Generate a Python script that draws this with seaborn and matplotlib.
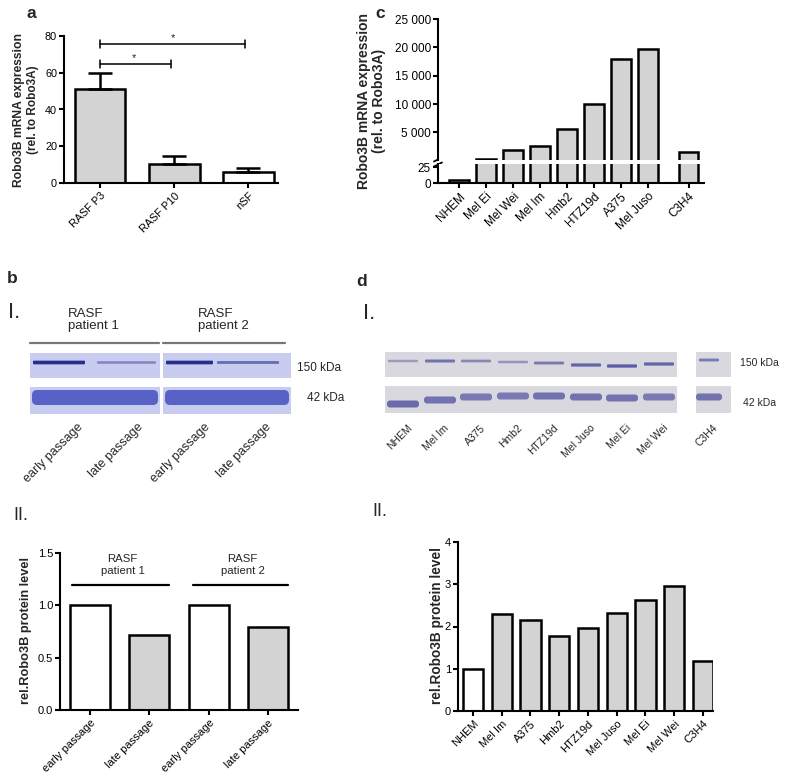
import matplotlib
matplotlib.use("Agg")
import matplotlib.pyplot as plt
from matplotlib.patches import Rectangle, FancyBboxPatch
from matplotlib.ticker import FuncFormatter
import numpy as np
import seaborn as sns

# ---- panel a: mRNA in RASF ----
a_labels = ["RASF P3", "RASF P10", "nSF"]
a_means = [51.2, 10.5, 6.2]
a_sem = [8.7, 4.4, 1.8]
a_colors = ["#d3d3d3", "#d3d3d3", "white"]

# ---- panel c: mRNA in melanoma lines ----
c_labels = ["NHEM", "Mel Ei", "Mel Wei", "Mel Im", "Hmb2", "HTZ19d", "A375", "Mel Juso", "C3H4"]
c_pos = [0, 1, 2, 3, 4, 5, 6, 7, 8.5]
c_vals = [4, 400, 1840, 2670, 5670, 10000, 18000, 19800, 1540]

# ---- panel b II: protein RASF ----
b_keys = ["p1 early", "p1 late", "p2 early", "p2 late"]
b_labels = ["early passage", "late passage", "early passage", "late passage"]
b_vals = [1.0, 0.72, 1.0, 0.79]
b_colors = ["white", "#d3d3d3", "white", "#d3d3d3"]
b_groups = ["RASF\npatient 1", "RASF\npatient 2"]

# ---- panel d II: protein melanoma ----
d_labels = ["NHEM", "Mel Im", "A375", "Hmb2", "HTZ19d", "Mel Juso", "Mel Ei", "Mel Wei", "C3H4"]
d_vals = [1.0, 2.29, 2.15, 1.77, 1.96, 2.32, 2.62, 2.95, 1.18]
d_colors = ["white"] + ["#d3d3d3"] * 8

# western blot band strengths (0..1)
b_blot_150 = [1.0, 0.45, 1.0, 0.6]
d_blot_150 = [0.45, 0.75, 0.6, 0.5, 0.7, 0.85, 0.9, 0.85, 0.7]
d_blot_42 = [0.8, 0.75, 0.7, 0.7, 0.75, 0.75, 0.75, 0.7, 0.75]

W, H = 785, 778
sns.set_theme(style="ticks")
plt.rcParams["font.family"] = ["Liberation Sans", "DejaVu Sans"]
plt.rcParams.update({
    "axes.linewidth": 1.5,
    "xtick.major.width": 1.5, "ytick.major.width": 1.5,
    "xtick.major.size": 3.5, "ytick.major.size": 3.5,
    "xtick.major.pad": 2, "ytick.major.pad": 1.5,
    "xtick.color": "black", "ytick.color": "black",
    "axes.edgecolor": "black",
})

fig = plt.figure(figsize=(W / 100, H / 100), dpi=100)

# overlay in pixel coordinates for labels and blots
ov = fig.add_axes([0, 0, 1, 1])
ov.set_xlim(0, W)
ov.set_ylim(H, 0)
ov.axis("off")


def px_axes(left, top, right, bottom):
    return fig.add_axes([left / W, 1 - bottom / H, (right - left) / W, (bottom - top) / H])


def style(ax, fs):
    sns.despine(ax=ax)
    ax.set_xlabel("")
    ax.set_ylabel("")
    ax.tick_params(labelsize=fs)
    for t in ax.get_xticklabels():
        t.set_rotation(45)
        t.set_ha("right")
        t.set_rotation_mode("anchor")


EDGE = 1.8

# ================= panel a =================
axa = px_axes(64, 36, 278, 183)
sns.barplot(x=a_labels, y=a_means, hue=a_labels, palette=a_colors, legend=False,
            width=0.68, edgecolor="black", linewidth=EDGE, errorbar=None, ax=axa)
axa.errorbar(range(3), a_means, yerr=[np.zeros(3), a_sem], fmt="none", ecolor="black",
             elinewidth=EDGE, capsize=8.5, capthick=EDGE, zorder=1)
axa.set_ylim(0, 80)
axa.set_yticks([0, 20, 40, 60, 80])
axa.set_xlim(-0.49, 2.4)
style(axa, 7.8)
# significance brackets
for y, x1, sx in [(75.6, 1.95, 0.98), (64.8, 0.95, 0.46)]:
    axa.plot([0, x1], [y, y], color="black", lw=1.1, clip_on=False)
    for xx in (0, x1):
        axa.plot([xx, xx], [y - 2.2, y + 2.2], color="black", lw=1.1, clip_on=False)
    axa.text(sx, y + 0.6, "*", ha="center", va="bottom", fontsize=8)
ov.text(19, 110, "Robo3B mRNA expression", rotation=90, ha="center",
        va="center", fontsize=8.7, fontweight="bold")
ov.text(33, 110, "(rel. to Robo3A)", rotation=90, ha="center",
        va="center", fontsize=8.5, fontweight="bold")
ov.text(31, 13, "a", ha="center", va="center", fontsize=12.5, fontweight="bold")

# ================= panel c (broken axis) =================
axc_hi = px_axes(438, 19, 704, 160)
axc_lo = px_axes(438, 164, 704, 183)
for ax in (axc_hi, axc_lo):
    sns.barplot(x=c_pos, y=c_vals, native_scale=True, color="#d3d3d3", width=0.72,
                edgecolor="black", linewidth=EDGE, errorbar=None, ax=ax)
    ax.set_xlim(-0.78, 9.07)
    style(ax, 8.5)
axc_hi.set_ylim(150, 25000)
axc_hi.set_yticks([5000, 10000, 15000, 20000, 25000])
axc_hi.yaxis.set_major_formatter(FuncFormatter(lambda v, p: f"{int(v):,}".replace(",", " ")))
axc_hi.set_xticks([])
axc_hi.spines["bottom"].set_visible(False)
axc_lo.set_ylim(0, 29.7)
axc_lo.set_yticks([0, 25])
axc_lo.set_xticks(c_pos)
axc_lo.set_xticklabels(c_labels)
style(axc_lo, 8.5)
for yb in (159.5, 164.5):
    ov.plot([434, 442], [yb + 2, yb - 2], color="black", lw=1.3)
ov.text(364, 101, "Robo3B mRNA expression", rotation=90, ha="center",
        va="center", fontsize=10, fontweight="bold")
ov.text(379, 101, "(rel. to Robo3A)", rotation=90, ha="center",
        va="center", fontsize=10, fontweight="bold")
ov.text(380, 13, "c", ha="center", va="center", fontsize=12.5, fontweight="bold")

# ================= panel b I (blot) =================
ov.text(12, 278, "b", ha="center", va="center", fontsize=12.5, fontweight="bold")
ov.text(8, 312, "I.", ha="left", va="center", fontsize=16)
ov.text(68, 320, "RASF\npatient 1", ha="left", va="center", fontsize=9.5, linespacing=1.1)
ov.text(198, 320, "RASF\npatient 2", ha="left", va="center", fontsize=9.5, linespacing=1.1)
ov.plot([30, 159], [343, 343], color="#777777", lw=1.6)
ov.plot([163, 285], [343, 343], color="#777777", lw=1.6)

b_bg = np.array([200, 205, 240]) / 255
b_dark = np.array([38, 48, 140]) / 255
b_strips = [(30, 160), (163, 291)]
for x0, x1 in b_strips:
    ov.add_patch(Rectangle((x0, 353), x1 - x0, 25, color=b_bg, lw=0))
    ov.add_patch(Rectangle((x0, 387), x1 - x0, 27, color=b_bg, lw=0))
b_lane_x = [(33, 85), (97, 156), (166, 213), (217, 279)]
for (x0, x1), s in zip(b_lane_x, b_blot_150):
    col = b_bg + (b_dark - b_bg) * s
    h = 1.5 + 2.2 * s
    ov.add_patch(FancyBboxPatch((x0, 362.5 - h / 2), x1 - x0, h,
                                boxstyle="round,pad=0,rounding_size=1", color=col, lw=0))
b42_col = np.array([88, 98, 198]) / 255
for x0, x1 in [(32, 158), (165, 289)]:
    ov.add_patch(FancyBboxPatch((x0, 390), x1 - x0, 15,
                                boxstyle="round,pad=0,rounding_size=5", color=b42_col, lw=0))
ov.text(297, 368, "150 kDa", ha="left", va="center", fontsize=8.5)
ov.text(307, 398, "42 kDa", ha="left", va="center", fontsize=8.5)
for xe, lab in zip([77, 137, 204, 265], b_labels):
    ov.text(xe, 421, lab, rotation=45, ha="right", va="top", rotation_mode="anchor", fontsize=9)

# ================= panel d I (blot) =================
ov.text(362, 281, "d", ha="center", va="center", fontsize=12.5, fontweight="bold")
ov.text(363, 313, "I.", ha="left", va="center", fontsize=16)
d_bg = np.array([216, 216, 222]) / 255
d_dark = np.array([80, 80, 160]) / 255
for x0, x1 in [(385, 677), (696, 731)]:
    ov.add_patch(Rectangle((x0, 352), x1 - x0, 25, color=d_bg, lw=0))
    ov.add_patch(Rectangle((x0, 386), x1 - x0, 27, color=d_bg, lw=0))
d_lane_c = [403, 440, 476, 513, 549, 586, 622, 659, 709]
d_y150 = [361, 361, 361, 362, 363, 365, 366, 364, 360]
d_y42 = [404, 400, 397, 396, 396, 397, 398, 397, 397]
for i, xc in enumerate(d_lane_c):
    bw = 30 if i < 8 else 20
    s = d_blot_150[i]
    col = d_bg + (d_dark - d_bg) * s
    h = 1.5 + 2.0 * s
    ov.add_patch(FancyBboxPatch((xc - bw / 2, d_y150[i] - h / 2), bw, h,
                                boxstyle="round,pad=0,rounding_size=1", color=col, lw=0))
    s = d_blot_42[i]
    col = d_bg + (d_dark - d_bg) * s
    bw = 32 if i < 8 else 26
    ov.add_patch(FancyBboxPatch((xc - bw / 2, d_y42[i] - 3.5), bw, 7,
                                boxstyle="round,pad=0,rounding_size=3", color=col, lw=0))
ov.text(740, 363, "150 kDa", ha="left", va="center", fontsize=7.5)
ov.text(743, 403, "42 kDa", ha="left", va="center", fontsize=7.5)
for xc, lab in zip(d_lane_c, d_labels):
    ov.text(xc + 4, 423, lab, rotation=45, ha="right", va="top", rotation_mode="anchor", fontsize=7.5)

# ================= panel b II =================
ov.text(13, 515, "II.", ha="left", va="center", fontsize=13)
axb = px_axes(60, 553, 298, 710)
sns.barplot(x=b_keys, y=b_vals, hue=b_keys, palette=b_colors, legend=False,
            width=0.68, edgecolor="black", linewidth=EDGE, errorbar=None, ax=axb)
axb.set_ylim(0, 1.5)
axb.set_yticks([0, 0.5, 1.0, 1.5])
axb.set_yticklabels(["0.0", "0.5", "1.0", "1.5"])
axb.set_xlim(-0.5, 3.5)
axb.set_xticks(range(4))
axb.set_xticklabels(b_labels)
style(axb, 8)
for x0, x1, xt, lab in [(-0.29, 1.34, 0.55, b_groups[0]), (1.73, 3.34, 2.57, b_groups[1])]:
    axb.plot([x0, x1], [1.19, 1.19], color="black", lw=1.6, clip_on=False)
    axb.text(xt, 1.385, lab, ha="center", va="center", fontsize=8.2, linespacing=1.15)
ov.text(26, 631, "rel.Robo3B protein level", rotation=90, ha="center", va="center",
        fontsize=9.2, fontweight="bold")

# ================= panel d II =================
ov.text(372, 511, "II.", ha="left", va="center", fontsize=13)
axd = px_axes(458, 542, 713, 711)
sns.barplot(x=d_labels, y=d_vals, hue=d_labels, palette=d_colors, legend=False,
            width=0.7, edgecolor="black", linewidth=EDGE, errorbar=None, ax=axd)
axd.set_ylim(0, 4)
axd.set_yticks([0, 1, 2, 3, 4])
axd.set_xlim(-0.52, 8.35)
style(axd, 8)
ov.text(437, 626, "rel.Robo3B protein level", rotation=90, ha="center", va="center",
        fontsize=9.8, fontweight="bold")

fig.savefig("out.png", dpi=100, facecolor="white")
